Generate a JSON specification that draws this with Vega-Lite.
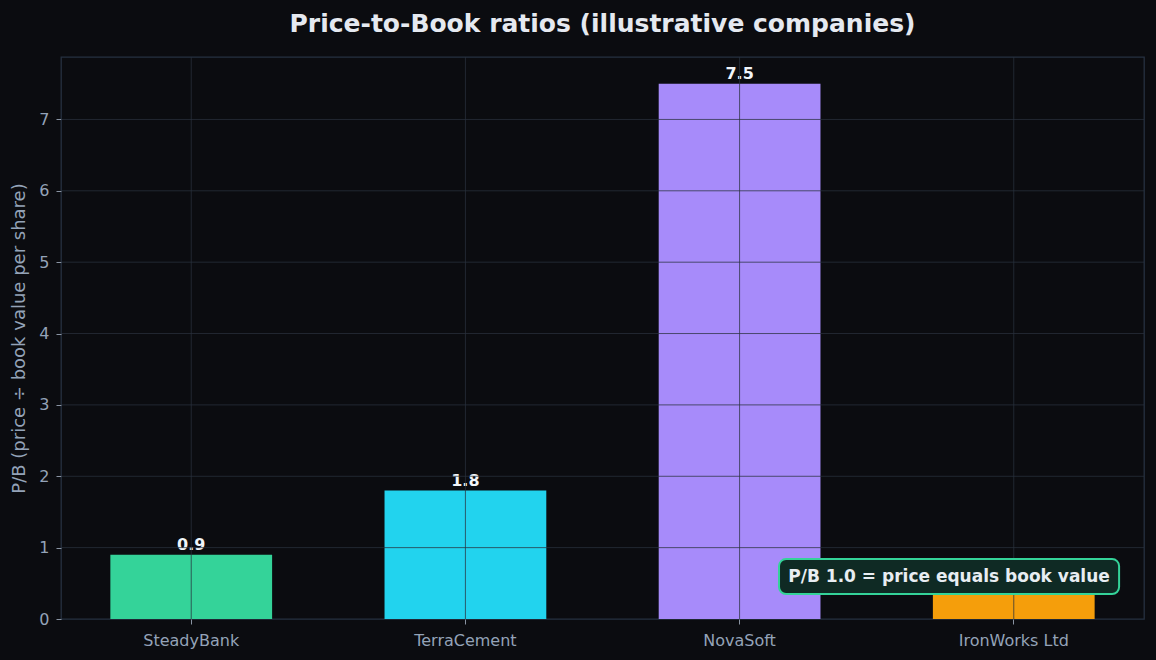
{
  "$schema": "https://vega.github.io/schema/vega-lite/v6.json",
  "width": 1083,
  "height": 562,
  "autosize": {"type": "none"},
  "padding": {"left": 61, "top": 57, "right": 12, "bottom": 41},
  "background": "#0b0c10",
  "title": {
    "text": "Price-to-Book ratios (illustrative companies)",
    "font": "DejaVu Sans",
    "fontSize": 25,
    "fontWeight": "bold",
    "color": "#e5e9f0",
    "anchor": "middle",
    "offset": 20
  },
  "config": {
    "font": "DejaVu Sans",
    "view": {"stroke": "#263140", "strokeWidth": 1.3, "fill": "#0b0c10"},
    "axis": {
      "domain": false,
      "grid": false,
      "tickColor": "#8a94a3",
      "tickSize": 5,
      "labelColor": "#94a3b8",
      "labelFont": "DejaVu Sans",
      "labelFontSize": 16,
      "titleColor": "#94a3b8",
      "titleFont": "DejaVu Sans",
      "titleFontSize": 18,
      "titleFontWeight": "normal"
    }
  },
  "datasets": {
    "companies": [
      {"company": "SteadyBank", "pb": 0.9},
      {"company": "TerraCement", "pb": 1.8},
      {"company": "NovaSoft", "pb": 7.5},
      {"company": "IronWorks Ltd", "pb": 0.6}
    ],
    "gridY": [{"v": 1}, {"v": 2}, {"v": 3}, {"v": 4}, {"v": 5}, {"v": 6}, {"v": 7}],
    "note": [{"x0": 0.663, "x1": 0.977, "xc": 0.82, "y0": 0.35, "y1": 0.84, "yc": 0.595, "label": "P/B 1.0 = price equals book value"}]
  },
  "layer": [
    {
      "layer": [
        {
          "data": {"name": "companies"},
          "mark": {"type": "bar"},
          "encoding": {
            "x": {
              "field": "company",
              "type": "nominal",
              "sort": null,
              "scale": {"paddingInner": 0.41, "paddingOuter": 0.18},
              "axis": {"title": null, "labelAngle": 0, "labelPadding": 8}
            },
            "y": {
              "field": "pb",
              "type": "quantitative",
              "scale": {"domain": [0, 7.875], "nice": false},
              "axis": {"title": "P/B (price ÷ book value per share)", "values": [0, 1, 2, 3, 4, 5, 6, 7], "format": "d", "titlePadding": 10, "labelPadding": 7}
            },
            "color": {
              "field": "company",
              "type": "nominal",
              "sort": null,
              "scale": {
                "domain": ["SteadyBank", "TerraCement", "NovaSoft", "IronWorks Ltd"],
                "range": ["#34d399", "#22d3ee", "#a78bfa", "#f59e0b"]
              },
              "legend": null
            }
          }
        },
        {
          "data": {"name": "companies"},
          "transform": [{"filter": "datum.company !== 'IronWorks Ltd'"}],
          "mark": {"type": "text", "baseline": "bottom", "dy": -2, "fontSize": 16, "fontWeight": "bold", "color": "#f1f5f9"},
          "encoding": {
            "x": {"field": "company", "type": "nominal", "sort": null},
            "y": {"field": "pb", "type": "quantitative"},
            "text": {"field": "pb", "type": "quantitative", "format": ".1f"}
          }
        },
        {
          "data": {"name": "companies"},
          "mark": {"type": "rule", "stroke": "#29323e", "strokeOpacity": 0.75, "strokeWidth": 1},
          "encoding": {
            "x": {"field": "company", "type": "nominal", "sort": null}
          }
        },
        {
          "data": {"name": "gridY"},
          "mark": {"type": "rule", "stroke": "#29323e", "strokeOpacity": 0.75, "strokeWidth": 1},
          "encoding": {
            "y": {"field": "v", "type": "quantitative"}
          }
        }
      ]
    },
    {
      "data": {"name": "note"},
      "layer": [
        {
          "mark": {"type": "rect", "fill": "#0f2a24", "stroke": "#34d399", "strokeWidth": 2, "cornerRadius": 7},
          "encoding": {
            "x": {"field": "x0", "type": "quantitative", "scale": {"domain": [0, 1], "nice": false, "zero": false}, "axis": null},
            "x2": {"field": "x1"},
            "y": {"field": "y0", "type": "quantitative"},
            "y2": {"field": "y1"}
          }
        },
        {
          "mark": {"type": "text", "align": "center", "baseline": "middle", "fontSize": 17, "fontWeight": "bold", "color": "#e8edf2"},
          "encoding": {
            "x": {"field": "xc", "type": "quantitative", "scale": {"domain": [0, 1], "nice": false, "zero": false}, "axis": null},
            "y": {"field": "yc", "type": "quantitative"},
            "text": {"field": "label"}
          }
        }
      ]
    }
  ],
  "resolve": {"scale": {"x": "independent"}}
}
